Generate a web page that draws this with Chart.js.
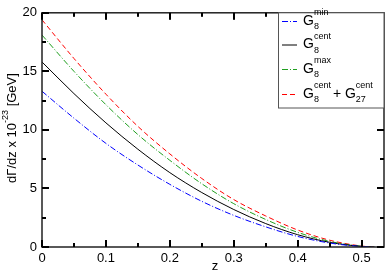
<!DOCTYPE html>
<html>
<head>
<meta charset="utf-8">
<script src="https://cdn.jsdelivr.net/npm/chart.js@4.4.0/dist/chart.umd.min.js"></script>
<style>
  html, body { margin: 0; padding: 0; background: #fff; }
</style>
</head>
<body>
<canvas id="canvas" width="388" height="273"></canvas>
<script>
// values
var zVals   = [0, 0.05, 0.1, 0.15, 0.2, 0.25, 0.3, 0.35, 0.4, 0.45, 0.5, 0.52];
var g8min   = [13.3, 11.0, 8.85, 7.0, 5.35, 3.9, 2.7, 1.72, 0.9, 0.34, 0.04, 0];
var g8cent  = [15.8, 13.1, 10.6, 8.35, 6.35, 4.65, 3.2, 2.0, 1.05, 0.4, 0.05, 0];
var g8max   = [18.1, 15.0, 12.15, 9.6, 7.4, 5.4, 3.7, 2.35, 1.25, 0.48, 0.06, 0];
var g8g27   = [19.4, 16.1, 13.05, 10.3, 7.95, 5.85, 4.05, 2.65, 1.45, 0.58, 0.08, 0];
var xTicks  = [0, 0.1, 0.2, 0.3, 0.4, 0.5];
var yTicks  = [0, 5, 10, 15, 20];
var xMinor  = [0.05, 0.15, 0.25, 0.35, 0.45];
var yMinor  = [2.5, 7.5, 12.5, 17.5];

function pts(arr) {
    return zVals.map(function (z, i) { return { x: z, y: arr[i] }; });
}

var FONT = "'Liberation Sans', Arial, sans-serif";

// frame, axis titles, legend, then inward ticks on top
var decor = {
    id: 'decor',
    afterDraw: function (chart) {
        var c = chart.ctx, a = chart.chartArea;
        var xs = chart.scales.x, ys = chart.scales.y;
        c.save();
        c.setLineDash([]);
        c.strokeStyle = '#222';
        c.lineWidth = 1.5;
        c.strokeRect(a.left, a.top, a.right - a.left, a.bottom - a.top);

        // x title
        c.fillStyle = '#000';
        c.font = '13px ' + FONT;
        c.textAlign = 'center';
        c.textBaseline = 'middle';
        c.fillText('z', 215, 266);

        // y title with superscript
        c.save();
        c.translate(12, 128);
        c.rotate(-Math.PI / 2);
        c.textBaseline = 'middle';
        c.textAlign = 'left';
        var p1 = 'd\u0393/dz x 10', p2 = '-23', p3 = ' [GeV]';
        c.font = '13px ' + FONT;
        var w1 = c.measureText(p1).width, w3 = c.measureText(p3).width;
        c.font = '9px ' + FONT;
        var w2 = c.measureText(p2).width;
        var x0 = -(w1 + w2 + w3) / 2;
        c.font = '13px ' + FONT;
        c.fillText(p1, x0, 0);
        c.font = '9px ' + FONT;
        c.fillText(p2, x0 + w1, -6);
        c.font = '13px ' + FONT;
        c.fillText(p3, x0 + w1 + w2, 0);
        c.restore();

        // legend
        var bx = 278.5, by = a.top, bw = a.right - 278.5, bh = 108 - a.top;
        c.fillStyle = '#fff';
        c.fillRect(bx, by, bw, bh);
        c.strokeStyle = '#555';
        c.lineWidth = 1;
        c.strokeRect(bx, by, bw, bh);
        var ds = chart.data.datasets;
        var rows = [21, 44.5, 69, 94];
        var sups = ['min', 'cent', 'max', 'cent'];
        for (var i = 0; i < ds.length; i++) {
            var yy = rows[i];
            c.strokeStyle = ds[i].borderColor;
            c.lineWidth = 1;
            c.setLineDash(ds[i].borderDash || []);
            c.beginPath();
            c.moveTo(282, yy + 0.5); c.lineTo(297, yy + 0.5);
            c.stroke();
            c.setLineDash([]);
            c.fillStyle = '#000';
            c.textAlign = 'left';
            c.textBaseline = 'middle';
            var tx = 303;
            c.font = '14px ' + FONT;
            c.fillText('G', tx, yy);
            var gw = c.measureText('G').width;
            c.font = '9px ' + FONT;
            c.fillText('8', tx + gw, yy + 6);
            c.fillText(sups[i], tx + gw, yy - 8);
            if (i === 3) {
                var sx = tx + gw + c.measureText('cent').width + 2;
                c.font = '14px ' + FONT;
                c.fillText('+ G', sx, yy);
                var pw = c.measureText('+ G').width;
                c.font = '9px ' + FONT;
                c.fillText('27', sx + pw, yy + 6);
                c.fillText('cent', sx + pw, yy - 8);
            }
        }

        // ticks
        c.fillStyle = '#000';
        xTicks.concat(xMinor).forEach(function (v, k) {
            var len = k < xTicks.length ? 7 : 4;
            var px = Math.round(xs.getPixelForValue(v));
            c.fillRect(px - 1, a.bottom - len, 2, len);
            if (px < bx) c.fillRect(px - 1, a.top, 2, len);
        });
        yTicks.concat(yMinor).forEach(function (v, k) {
            var len = k < yTicks.length ? 7 : 4;
            var py = Math.round(ys.getPixelForValue(v));
            c.fillRect(a.left, py - 1, len, 2);
            if (py > by + bh) c.fillRect(a.right - len, py - 1, len, 2);
        });
        c.restore();
    }
};

new Chart(document.getElementById('canvas').getContext('2d'), {
    type: 'line',
    data: {
        datasets: [
            { label: 'G8 min', data: pts(g8min), borderColor: '#0000ff', borderDash: [6, 2, 1, 2] },
            { label: 'G8 cent', data: pts(g8cent), borderColor: '#000000' },
            { label: 'G8 max', data: pts(g8max), borderColor: '#1f9f1f', borderDash: [6, 2, 1, 2] },
            { label: 'G8 cent + G27 cent', data: pts(g8g27), borderColor: '#ff0000', borderDash: [5, 3] }
        ]
    },
    options: {
        responsive: false,
        animation: false,
        layout: { padding: { top: 2, right: 4, left: 0, bottom: 0 } },
        elements: {
            point: { radius: 0 },
            line: { borderWidth: 1, cubicInterpolationMode: 'monotone', fill: false }
        },
        plugins: { legend: { display: false }, tooltip: { enabled: false } },
        scales: {
            x: {
                type: 'linear', min: 0, max: 0.535,
                afterBuildTicks: function (s) { s.ticks = xTicks.map(function (v) { return { value: v }; }); },
                afterFit: function (s) { s.height = 26; },
                grid: { display: false, drawTicks: false },
                border: { display: false },
                ticks: {
                    color: '#000', font: { size: 13, family: FONT }, padding: 4, maxRotation: 0,
                    callback: function (v) { return String(+v.toFixed(1)); }
                }
            },
            y: {
                min: 0, max: 20,
                afterBuildTicks: function (s) { s.ticks = yTicks.map(function (v) { return { value: v }; }); },
                afterFit: function (s) { s.width = 42; },
                grid: { display: false, drawTicks: false },
                border: { display: false },
                ticks: { color: '#000', font: { size: 13, family: FONT }, padding: 5 }
            }
        }
    },
    plugins: [decor]
});
</script>
</body>
</html>
